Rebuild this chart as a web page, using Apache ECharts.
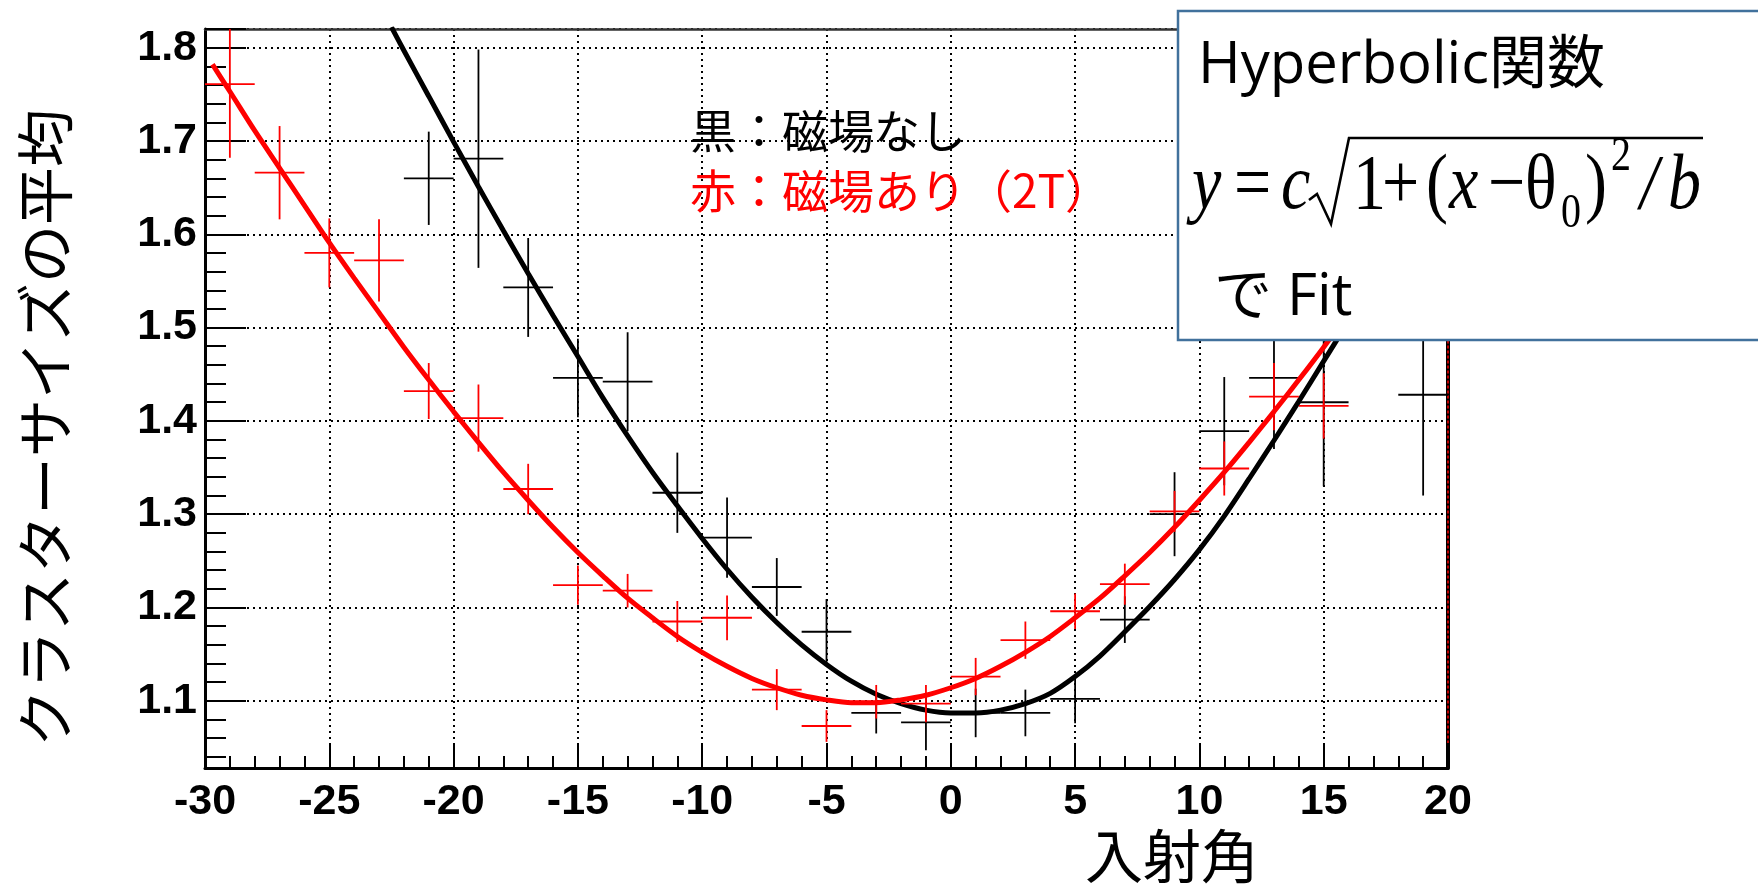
<!DOCTYPE html>
<html><head><meta charset="utf-8">
<script src="https://cdn.jsdelivr.net/npm/echarts@6/dist/echarts.min.js"></script>
<style>html,body{margin:0;padding:0;background:#fff;}#c{width:1758px;height:884px;}</style>
</head><body><div id="c"></div>
<script>
// ---- axis ranges ----
const X_MIN = -30, X_MAX = 20, X_STEP = 5;
const Y_MIN = 1.028, Y_MAX = 1.82;

// ---- red: with magnetic field (2T) ----
const redX   = [-29, -27, -25, -23, -21, -19, -17, -15, -13, -11, -9, -7, -5, -3, -1, 1, 3, 5, 7, 9, 11, 13, 15];
const redY   = [1.761, 1.666, 1.580, 1.572, 1.432, 1.403, 1.327, 1.224, 1.218, 1.185, 1.189, 1.112, 1.073, 1.099, 1.097, 1.126, 1.165, 1.196, 1.225, 1.303, 1.349, 1.426, 1.416];
const redErr = [0.079, 0.050, 0.037, 0.044, 0.030, 0.036, 0.027, 0.021, 0.018, 0.022, 0.024, 0.022, 0.017, 0.018, 0.020, 0.020, 0.020, 0.019, 0.022, 0.022, 0.029, 0.036, 0.035];

// ---- black: no magnetic field ----
const blackX   = [-21, -19, -17, -15, -13, -11, -9, -7, -5, -3, -1, 1, 3, 5, 7, 9, 11, 13, 15, 19];
const blackY   = [1.660, 1.681, 1.543, 1.446, 1.442, 1.323, 1.275, 1.222, 1.174, 1.087, 1.077, 1.087, 1.087, 1.102, 1.187, 1.300, 1.389, 1.446, 1.420, 1.428];
const blackErr = [0.050, 0.117, 0.053, 0.042, 0.053, 0.043, 0.043, 0.031, 0.035, 0.022, 0.030, 0.026, 0.025, 0.026, 0.025, 0.045, 0.058, 0.076, 0.090, 0.108];
const X_HALF_BIN = 1;

// ---- fitted curves ----
const redFitX = [-29.7, -29, -28, -27, -26, -25, -24, -23, -22, -21, -20, -19, -18, -17, -16, -15, -14, -13, -12, -11, -10, -9, -8, -7, -6, -5, -4, -3, -2, -1, 0, 1, 2, 3, 4, 5, 6, 7, 8, 9, 10, 11, 12, 13, 14, 15, 16, 17];
const redFitY = [1.782, 1.753, 1.711, 1.671, 1.631, 1.591, 1.553, 1.516, 1.479, 1.444, 1.410, 1.377, 1.345, 1.315, 1.286, 1.259, 1.234, 1.210, 1.189, 1.169, 1.152, 1.137, 1.124, 1.114, 1.106, 1.101, 1.098, 1.098, 1.101, 1.106, 1.114, 1.124, 1.137, 1.152, 1.169, 1.189, 1.210, 1.234, 1.259, 1.286, 1.315, 1.345, 1.377, 1.410, 1.444, 1.479, 1.516, 1.553];
const blackFitX = [-22.5, -22, -21, -20, -19, -18, -17, -16, -15, -14, -13, -12, -11, -10, -9, -8, -7, -6, -5, -4, -3, -2, -1, 0, 1, 2, 3, 4, 5, 6, 7, 8, 9, 10, 11, 12, 13, 14, 15, 16, 17];
const blackFitY = [1.822, 1.797, 1.748, 1.699, 1.651, 1.604, 1.558, 1.513, 1.469, 1.425, 1.384, 1.345, 1.309, 1.274, 1.241, 1.211, 1.184, 1.160, 1.139, 1.121, 1.107, 1.097, 1.090, 1.087, 1.087, 1.090, 1.097, 1.108, 1.126, 1.148, 1.174, 1.201, 1.230, 1.262, 1.298, 1.338, 1.379, 1.421, 1.464, 1.507, 1.550];

// ---- texts ----
const yTitle = 'クラスターサイズの平均';
const xTitle = '入射角';
const legendBlack = '黒：磁場なし';
const legendRed = '赤：磁場あり（2T）';

function pairs(xs, ys) { return xs.map((x, i) => [x, ys[i]]); }
function triples(xs, ys, es) { return xs.map((x, i) => [x, ys[i], es[i]]); }

function crossRenderer(color) {
  return function (params, api) {
    const x = api.value(0), y = api.value(1), e = api.value(2);
    const top = Math.min(y + e, Y_MAX), bot = Math.max(y - e, Y_MIN);
    const l = api.coord([Math.max(x - X_HALF_BIN, X_MIN), y]);
    const r = api.coord([Math.min(x + X_HALF_BIN, X_MAX), y]);
    const t = api.coord([x, top]);
    const b = api.coord([x, bot]);
    const st = { stroke: color, lineWidth: 1.8 };
    return { type: 'group', children: [
      { type: 'line', shape: { x1: l[0], y1: l[1], x2: r[0], y2: r[1] }, style: st },
      { type: 'line', shape: { x1: t[0], y1: t[1], x2: b[0], y2: b[1] }, style: st }
    ]};
  };
}

const tickFont = { fontFamily: 'Liberation Sans', fontWeight: 'bold', fontSize: 43, color: '#000' };
const gridDots = { color: '#000', width: 2, type: [2, 4] };

const F = '"Liberation Serif"';
const SY = 1.2;
const FY = 187;
function glyph(t, x, y, font) {
  return { type: 'text', x: x, y: y, scaleY: SY, z: 101,
    style: { text: t, font: font, fill: '#000', align: 'left', verticalAlign: 'middle' } };
}

const chart = echarts.init(document.getElementById('c'), null, { renderer: 'canvas' });
chart.setOption({
  animation: false,
  backgroundColor: '#fff',
  grid: { left: 205, top: 29, width: 1243, height: 739, containLabel: false },
  xAxis: [{
    type: 'value', min: X_MIN, max: X_MAX, interval: X_STEP,
    axisLine: { show: true, onZero: false, lineStyle: { color: '#000', width: 3 } },
    axisTick: { show: true, inside: true, length: 25, lineStyle: { color: '#000', width: 2 } },
    minorTick: { show: true, splitNumber: 5, length: 12, lineStyle: { color: '#000', width: 2 } },
    splitLine: { show: true, lineStyle: gridDots },
    minorSplitLine: { show: false },
    axisLabel: Object.assign({ margin: 13, showMinLabel: true, showMaxLabel: true }, tickFont)
  }, {
    type: 'value', position: 'top', min: X_MIN, max: X_MAX,
    axisLine: { show: true, onZero: false, lineStyle: { color: '#333', width: 2.5 } },
    axisTick: { show: false }, axisLabel: { show: false }, splitLine: { show: false }
  }],
  yAxis: [{
    type: 'value', min: Y_MIN, max: Y_MAX, splitNumber: 8, minInterval: 0.1, maxInterval: 0.1,
    axisLine: { show: true, onZero: false, lineStyle: { color: '#000', width: 3 } },
    axisTick: { show: true, inside: true, length: 41, lineStyle: { color: '#000', width: 2 } },
    minorTick: { show: true, splitNumber: 5, length: 21, lineStyle: { color: '#000', width: 2 } },
    splitLine: { show: true, lineStyle: gridDots },
    minorSplitLine: { show: false },
    axisLabel: Object.assign({ margin: 8, showMinLabel: false, showMaxLabel: false,
      formatter: v => v.toFixed(1) }, tickFont)
  }, {
    type: 'value', position: 'right', min: Y_MIN, max: Y_MAX,
    axisLine: { show: true, onZero: false, lineStyle: { color: '#000', width: 4 } },
    axisTick: { show: false }, axisLabel: { show: false }, splitLine: { show: false }
  }, {
    type: 'value', position: 'right', min: Y_MIN, max: Y_MAX,
    axisLine: { show: true, onZero: false, lineStyle: { color: '#ff0000', width: 1.5, type: [2, 3] } },
    axisTick: { show: false }, axisLabel: { show: false }, splitLine: { show: false }
  }],
  series: [
    { name: 'black-points', type: 'custom', renderItem: crossRenderer('#000'), clip: true,
      data: triples(blackX, blackY, blackErr), z: 3 },
    { name: 'black-fit', type: 'line', data: pairs(blackFitX, blackFitY), smooth: 0.3, showSymbol: false,
      symbol: 'none', clip: true, lineStyle: { color: '#000', width: 5 }, z: 4 },
    { name: 'red-points', type: 'custom', renderItem: crossRenderer('#ff0000'), clip: true,
      data: triples(redX, redY, redErr), z: 5 },
    { name: 'red-fit', type: 'line', data: pairs(redFitX, redFitY), smooth: 0.3, showSymbol: false,
      symbol: 'none', clip: true, lineStyle: { color: '#ff0000', width: 5 }, z: 6 }
  ],
  graphic: [
    { type: 'text', x: 45, y: 428, rotation: Math.PI / 2, z: 50,
      style: { text: yTitle, font: '400 58px "Noto Sans CJK JP"', fill: '#000', align: 'center', verticalAlign: 'middle' } },
    { type: 'text', x: 1172, y: 856, z: 50,
      style: { text: xTitle, font: '400 58px "Noto Sans CJK JP"', fill: '#000', align: 'center', verticalAlign: 'middle' } },
    { type: 'text', x: 690, y: 131, z: 50,
      style: { text: legendBlack, font: '400 46px "Noto Sans CJK JP"', fill: '#000', align: 'left', verticalAlign: 'middle' } },
    { type: 'text', x: 690, y: 191, z: 50,
      style: { text: legendRed, font: '400 46px "Noto Sans CJK JP"', fill: '#ff0000', align: 'left', verticalAlign: 'middle' } },
    // formula box
    { type: 'rect', z: 100, shape: { x: 1178, y: 11, width: 620, height: 329 },
      style: { fill: '#fff', stroke: '#41719c', lineWidth: 2.5 } },
    { type: 'text', x: 1198, y: 66, z: 101,
      style: { text: 'Hyperbolic関数', font: '400 58px "Open Sans", "Noto Sans CJK JP"', fill: '#000', align: 'left', verticalAlign: 'middle' } },
    { type: 'text', x: 1214, y: 298, z: 101,
      style: { text: 'で Fit', font: '400 58px "Open Sans", "Noto Sans CJK JP"', fill: '#000', align: 'left', verticalAlign: 'middle' } },
    // formula glyphs
    glyph('y', 1192, FY, 'italic 66px ' + F),
    glyph('=', 1234, FY, '66px ' + F),
    glyph('c', 1281, FY, 'italic 66px ' + F),
    { type: 'polyline', z: 101, shape: { points: [[1309, 200], [1317, 194], [1331, 224], [1349, 138], [1703, 138]] },
      style: { stroke: '#000', lineWidth: 2.6, fill: null } },
    glyph('1', 1353, FY, '66px ' + F),
    glyph('+', 1382, FY, '66px ' + F),
    glyph('(', 1426, FY, '66px ' + F),
    glyph('x', 1449, FY, 'italic 66px ' + F),
    glyph('−', 1488, FY, '66px ' + F),
    glyph('θ', 1525, FY, '66px ' + F),
    glyph('0', 1561, FY + 27, '40px ' + F),
    glyph(')', 1585, FY, '66px ' + F),
    glyph('2', 1611, FY - 30, '40px ' + F),
    glyph('/', 1640, FY, 'italic 66px ' + F),
    glyph('b', 1668, FY, 'italic 66px ' + F)
  ]
});
</script></body></html>
